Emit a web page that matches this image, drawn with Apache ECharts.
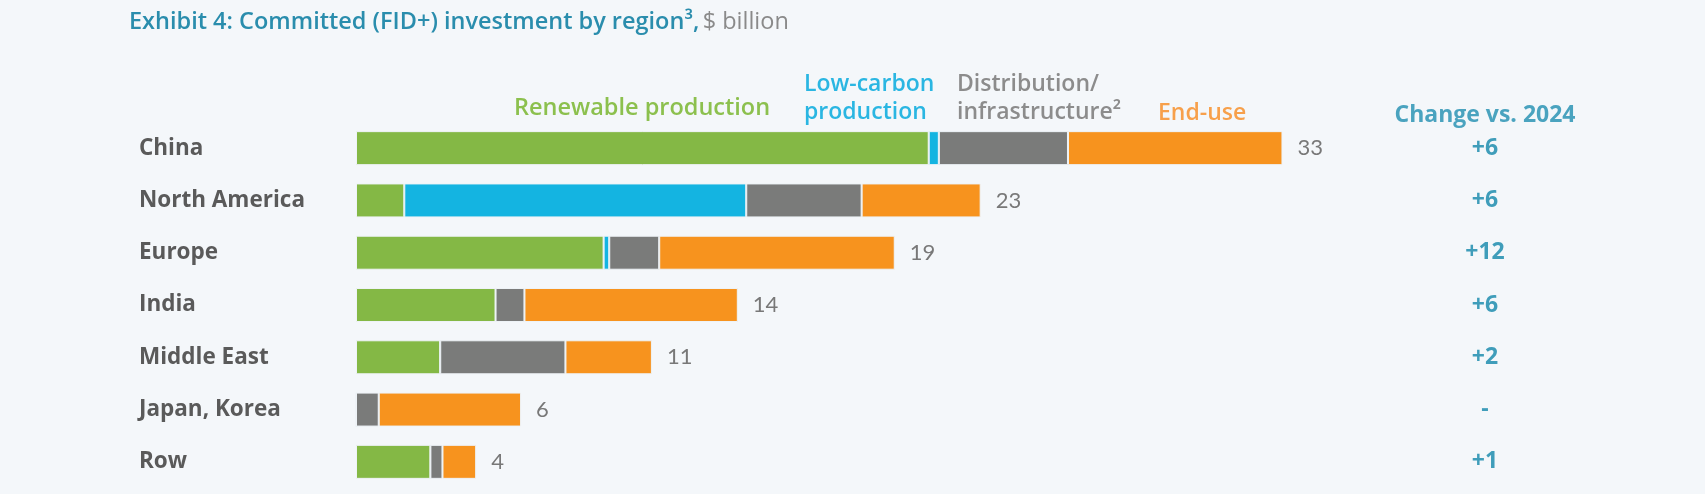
<!DOCTYPE html>
<html>
<head>
<meta charset="utf-8">
<title>Committed (FID+) investment by region</title>
<script src="https://cdn.jsdelivr.net/npm/echarts@6/dist/echarts.min.js"></script>
<style>
	html, body { margin: 0; padding: 0; background: #f4f7fa; }
	#chart { width: 1705px; height: 494px; }
</style>
</head>
<body>
<div id="chart"></div>
<script>
// 데이터 ($ billion)
var regions = ['China', 'North America', 'Europe', 'India', 'Middle East', 'Japan, Korea', 'Row'];
var renewable = [20.4, 1.72, 8.82, 4.97, 3.0, 0, 2.65];
var lowCarbon = [0.36, 12.18, 0.2, 0, 0, 0, 0];
var distribution = [4.6, 4.11, 1.78, 1.03, 4.46, 0.81, 0.43];
var endUse = [7.64, 4.24, 8.39, 7.6, 3.08, 5.07, 1.2];
var totals = ['33', '23', '19', '14', '11', '6', '4'];
var changes = ['+6', '+6', '+12', '+6', '+2', '-', '+1'];

var fontName = '"Open Sans", Lato, sans-serif';
var numFont = 'Lato, "Open Sans", sans-serif';
var gapColor = '#eef3f7';

// 차트위치생성
var chartLocationInit = echarts.init(document.getElementById('chart'));

function makeSeries(name, data, color) {
	return {
		name: name,
		type: 'bar',
		stack: 'total',
		barWidth: 34,
		data: data,
		itemStyle: {
			color: color,
			borderColor: gapColor,
			borderWidth: 1
		}
	};
}

var seriesList = [
	makeSeries('Renewable production', renewable, '#84b845'),
	makeSeries('Low-carbon production', lowCarbon, '#14b4e1'),
	makeSeries('Distribution/infrastructure', distribution, '#7a7b7a'),
	makeSeries('End-use', endUse, '#f7931e')
];
// 합계 라벨
seriesList[3].label = {
	show: true,
	position: 'right',
	distance: 15,
	color: '#787878',
	fontFamily: numFont,
	fontSize: 22,
	formatter: function(params) {
		return totals[params.dataIndex];
	}
};

// 차트옵션
var option = {
	backgroundColor: '#f4f7fa',
	animation: false,
	grid: {
		left: 356,
		right: 226,
		top: 122,
		bottom: 6
	},
	xAxis: {
		type: 'value',
		min: 0,
		max: 40,
		show: false
	},
	yAxis: [{
		type: 'category',
		data: regions,
		inverse: true,
		axisLine: { show: false },
		axisTick: { show: false },
		axisLabel: {
			align: 'left',
			margin: 217,
			color: '#5a5a5a',
			fontFamily: fontName,
			fontWeight: 'bold',
			fontSize: 22.5
		}
	}, {
		type: 'category',
		data: changes,
		inverse: true,
		position: 'right',
		axisLine: { show: false },
		axisTick: { show: false },
		axisLabel: {
			align: 'center',
			margin: 6,
			color: '#3f9dba',
			fontFamily: fontName,
			fontWeight: 'bold',
			fontSize: 23
		}
	}],
	graphic: [{
		type: 'text',
		left: 129,
		top: 10,
		style: {
			text: '{b|Exhibit 4: Committed (FID+) investment by region³,} {n|$ billion}',
			rich: {
				b: { fontFamily: fontName, fontWeight: 600, fontSize: 23.5, fill: '#2a8dad' },
				n: { fontFamily: fontName, fontSize: 23.5, fill: '#8a8a8a' }
			}
		}
	}, {
		type: 'text',
		x: 514,
		y: 108,
		style: {
			text: 'Renewable production',
			fill: '#8cc04e',
			font: '600 23.5px ' + fontName,
			textVerticalAlign: 'middle'
		}
	}, {
		type: 'text',
		x: 804,
		y: 98,
		style: {
			text: 'Low-carbon\nproduction',
			fill: '#2ab6e2',
			font: '600 23px ' + fontName,
			lineHeight: 28,
			textVerticalAlign: 'middle'
		}
	}, {
		type: 'text',
		x: 957,
		y: 98,
		style: {
			text: 'Distribution/\ninfrastructure²',
			fill: '#8c8c8c',
			font: '600 23px ' + fontName,
			lineHeight: 28,
			textVerticalAlign: 'middle'
		}
	}, {
		type: 'text',
		x: 1158,
		y: 113,
		style: {
			text: 'End-use',
			fill: '#f7a04b',
			font: '600 23px ' + fontName,
			textVerticalAlign: 'middle'
		}
	}, {
		type: 'text',
		x: 1485,
		y: 115,
		style: {
			text: 'Change vs. 2024',
			fill: '#4aa3bf',
			font: 'bold 23px ' + fontName,
			textAlign: 'center',
			textVerticalAlign: 'middle'
		}
	}],
	series: seriesList
};

// 차트 생성
chartLocationInit.setOption(option);
</script>
</body>
</html>
